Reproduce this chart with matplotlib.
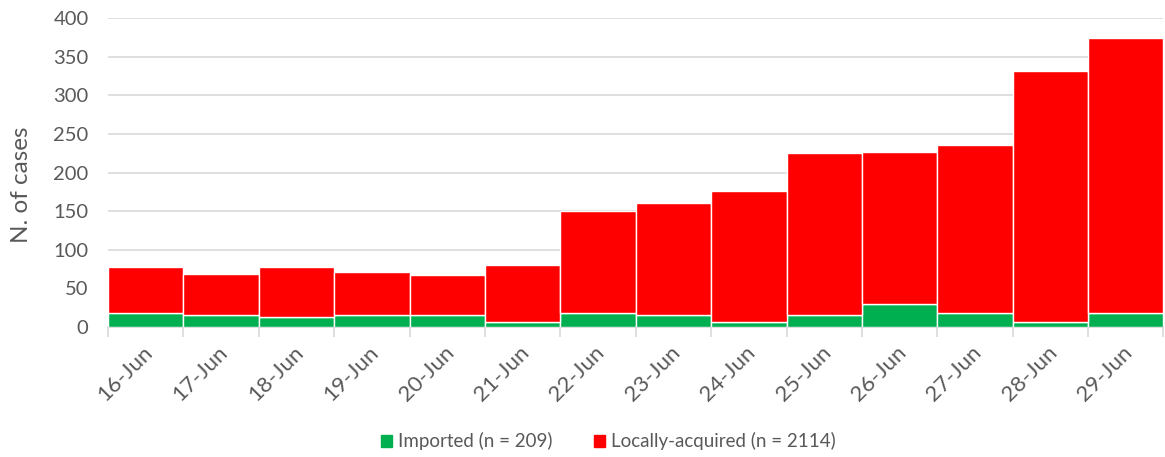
import numpy as np
import matplotlib
matplotlib.use("Agg")
import matplotlib.pyplot as plt
from matplotlib.patches import Patch
import matplotlib.transforms as mtransforms

# Data
days = ["16-Jun", "17-Jun", "18-Jun", "19-Jun", "20-Jun", "21-Jun", "22-Jun",
        "23-Jun", "24-Jun", "25-Jun", "26-Jun", "27-Jun", "28-Jun", "29-Jun"]
imported = [18, 16, 13, 15, 15, 6, 18, 15, 6, 15, 30, 18, 6, 18]
local = [60, 53, 65, 56, 52, 74, 132, 145, 170, 210, 197, 218, 326, 356]
y_ticks = [0, 50, 100, 150, 200, 250, 300, 350, 400]

GREEN = "#00B050"
RED = "#FF0000"
TEXT = "#595959"
GRID = "#D9D9D9"

plt.rcParams["font.family"] = ["Lato", "DejaVu Sans"]

fig = plt.figure(figsize=(11.65, 4.57), dpi=100)
ax = fig.add_axes([0.0927, 0.2845, 0.906, 0.676])

x = np.arange(len(days))
ax.bar(x, imported, width=1.0, color=GREEN, edgecolor="white", linewidth=1.0, zorder=3)
ax.bar(x, local, width=1.0, bottom=imported, color=RED, edgecolor="white", linewidth=1.0, zorder=3)

ax.set_xlim(-0.5, len(days) - 0.5)
ax.set_ylim(0, 400)
ax.set_yticks(y_ticks)
ax.yaxis.grid(True, color=GRID, linewidth=1.2, zorder=0)
ax.set_axisbelow(True)

for s in ["top", "right", "left"]:
    ax.spines[s].set_visible(False)
ax.spines["bottom"].set_color(GRID)
ax.spines["bottom"].set_linewidth(1.2)

# tick marks between categories (Excel style), labels centred under bars
ax.set_xticks(np.arange(len(days) + 1) - 0.5)
ax.set_xticklabels([])
ax.tick_params(axis="x", length=7, color=GRID, width=1.2)
ax.tick_params(axis="y", length=0, labelsize=14.5, labelcolor=TEXT, pad=14)

offset = mtransforms.ScaledTranslation(2.5 / 72, -16 / 72, fig.dpi_scale_trans)
for i, d in enumerate(days):
    ax.text(i, 0, d, transform=ax.get_xaxis_transform() + offset, rotation=45,
            ha="right", va="center", rotation_mode="anchor", fontsize=16,
            color=TEXT, clip_on=False)

fig.text(22 / 1165, 1 - 185 / 457, "N. of cases", rotation=90, ha="center",
         va="center", fontsize=17.5, color=TEXT)

handles = [Patch(color=GREEN, label="Imported (n = 209)"),
           Patch(color=RED, label="Locally-acquired (n = 2114)")]
fig.legend(handles=handles, loc="center", bbox_to_anchor=(0.522, 0.034), ncol=2,
           frameon=False, fontsize=13.5, labelcolor=TEXT, handlelength=0.6,
           handleheight=0.6, handletextpad=0.3, columnspacing=2.2)

fig.savefig("out.png", dpi=100)
